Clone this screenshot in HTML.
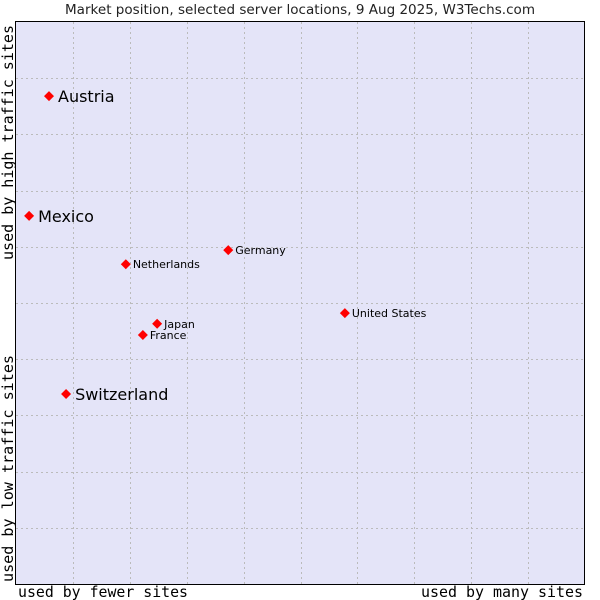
<!DOCTYPE html>
<html><head><meta charset="utf-8"><style>
html,body{margin:0;padding:0;background:#fff;}
svg{display:block;}
</style></head><body>
<svg width="600" height="600" viewBox="0 0 600 600" xmlns="http://www.w3.org/2000/svg">
<rect x="0" y="0" width="600" height="600" fill="#fff"/>
<text x="300" y="14" text-anchor="middle" font-family="DejaVu Sans, sans-serif" font-size="13" textLength="470" lengthAdjust="spacingAndGlyphs" fill="#222">Market position, selected server locations, 9 Aug 2025, W3Techs.com</text>
<rect x="15.5" y="21.5" width="569" height="563" fill="#e4e4f8" stroke="#000" stroke-width="1"/>
<g id="grid"></g>
<g id="points"></g>
<text x="18" y="597" font-family="DejaVu Sans Mono, monospace" font-size="15" textLength="170" lengthAdjust="spacingAndGlyphs" fill="#000">used by fewer sites</text>
<text x="421" y="597" font-family="DejaVu Sans Mono, monospace" font-size="15" textLength="162" lengthAdjust="spacingAndGlyphs" fill="#000">used by many sites</text>
<text transform="translate(13,260) rotate(-90)" font-family="DejaVu Sans Mono, monospace" font-size="15" textLength="235" lengthAdjust="spacingAndGlyphs" fill="#000">used by high traffic sites</text>
<text transform="translate(13,582) rotate(-90)" font-family="DejaVu Sans Mono, monospace" font-size="15" textLength="227" lengthAdjust="spacingAndGlyphs" fill="#000">used by low traffic sites</text>
</svg>
<script>
const names = ["Austria","Mexico","Switzerland","Germany","Netherlands","United States","Japan","France"];
const xValues = [0.58,0.23,0.88,3.73,1.93,5.78,2.48,2.23];
const yValues = [8.68,6.55,3.38,5.94,5.69,4.82,4.63,4.43];
const big = [true,true,true,false,false,false,false,false];
const NS="http://www.w3.org/2000/svg";
const X0=16,X1=585,Y0=584,Y1=22;
function sx(v){return X0+(X1-X0)*v/10;}
function sy(v){return Y0-(Y0-Y1)*v/10;}
const grid=document.getElementById('grid');
for(let i=1;i<10;i++){
  const v=document.createElementNS(NS,'line');
  v.setAttribute('x1',Math.round(sx(i))+0.5);v.setAttribute('x2',Math.round(sx(i))+0.5);
  v.setAttribute('y1',22);v.setAttribute('y2',584);
  v.setAttribute('stroke','#bbb');v.setAttribute('stroke-dasharray','2,3');
  
  
  grid.appendChild(v);
  const h=document.createElementNS(NS,'line');
  h.setAttribute('y1',Math.round(sy(i))+0.5);h.setAttribute('y2',Math.round(sy(i))+0.5);
  h.setAttribute('x1',16);h.setAttribute('x2',585);
  h.setAttribute('stroke','#bbb');h.setAttribute('stroke-dasharray','2,3');
  
  
  grid.appendChild(h);
}
const pts=document.getElementById('points');
names.forEach((n,i)=>{
  const x=sx(xValues[i]),y=sy(yValues[i]);
  const d=document.createElementNS(NS,'path');
  d.setAttribute('d',`M${x-5},${y}L${x},${y-5}L${x+5},${y}L${x},${y+5}Z`);
  d.setAttribute('fill','#f00');
  
  
  pts.appendChild(d);
  const t=document.createElementNS(NS,'text');
  t.setAttribute('x',x+(big[i]?9:7));
  t.setAttribute('y',y+(big[i]?6:4));
  t.setAttribute('font-family','DejaVu Sans, sans-serif');
  t.setAttribute('font-size',big[i]?16:11);
  t.setAttribute('fill','#000');
  t.textContent=n;
  
  
  pts.appendChild(t);
});
</script>
</body></html>
